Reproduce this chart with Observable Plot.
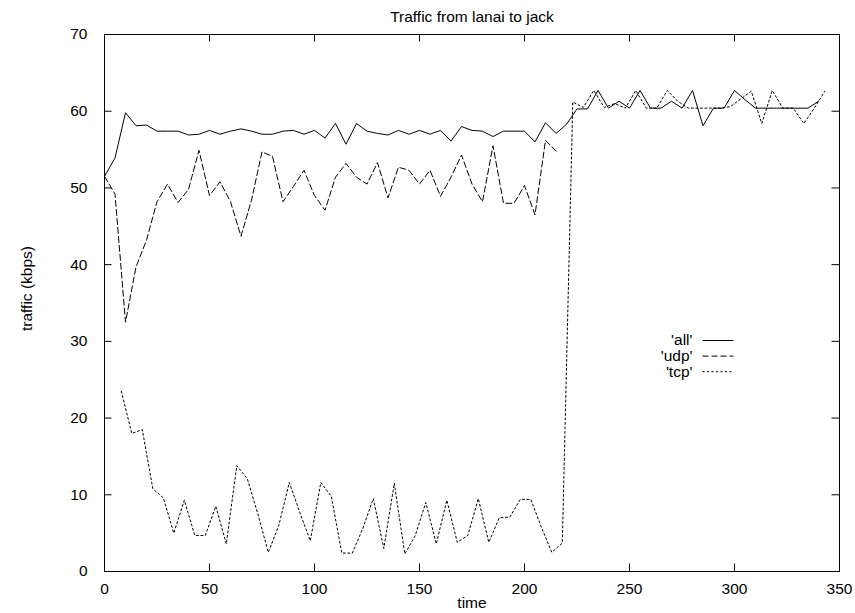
<!DOCTYPE html>
<html><head><meta charset="utf-8">
<script src="https://cdn.jsdelivr.net/npm/d3@7"></script>
<script src="https://cdn.jsdelivr.net/npm/@observablehq/plot@0.6"></script>
<style>
html,body{margin:0;padding:0;background:#fff;}
#chart svg{display:block;}
</style></head><body><div id="chart"></div>
<script>
const titleText = "Traffic from lanai to jack";
const xLabel = "time";
const yLabel = "traffic (kbps)";
const seriesNames = ["'all'", "'udp'", "'tcp'"];
const xTicks = [0, 50, 100, 150, 200, 250, 300, 350];
const yTicks = [0, 10, 20, 30, 40, 50, 60, 70];

const allTime = [0,5,10,15,20,25,30,35,40,45,50,55,60,65,70,75,80,85,90,95,100,105,110,115,120,125,130,135,140,145,150,155,160,165,170,175,180,185,190,195,200,205,210,215,220,225,230,235,240,245,250,255,260,265,270,275,280,285,290,295,300,305,310,315,320,325,330,335,340];
const allValue = [51.5,53.9,59.8,58.1,58.2,57.4,57.4,57.4,56.9,57.0,57.5,57.0,57.4,57.7,57.4,57.0,57.0,57.4,57.5,57.0,57.5,56.5,58.4,55.7,58.4,57.4,57.1,56.9,57.5,57.0,57.5,57.0,57.5,56.1,58.0,57.5,57.4,56.7,57.4,57.4,57.4,56.0,58.5,57.1,58.3,60.3,60.3,62.7,60.4,61.3,60.4,62.7,60.4,60.4,61.3,60.4,62.7,58.1,60.4,60.4,62.7,61.5,60.4,60.4,60.4,60.4,60.4,60.4,61.3];

const udpTime = [0,5,10,15,20,25,30,35,40,45,50,55,60,65,70,75,80,85,90,95,100,105,110,115,120,125,130,135,140,145,150,155,160,165,170,175,180,185,190,195,200,205,210,215];
const udpValue = [51.5,49.2,32.5,39.7,43.2,48.2,50.5,48.1,49.8,54.9,49.0,50.8,48.2,43.7,48.4,54.7,54.1,48.2,50.2,52.3,49.0,47.1,51.4,53.2,51.4,50.5,53.3,48.7,52.7,52.3,50.5,52.3,48.9,51.4,54.3,50.5,48.2,55.5,48.0,48.0,50.3,46.5,56.2,54.8];

const tcpTime = [8,13,18,23,28,33,38,43,48,53,58,63,68,73,78,83,88,93,98,103,108,113,118,123,128,133,138,143,148,153,158,163,168,173,178,183,188,193,198,203,208,213,218,223,228,233,238,243,248,253,258,263,268,273,278,283,288,293,298,303,308,313,318,323,328,333,338,343];
const tcpValue = [23.5,18.0,18.5,10.8,9.6,5.0,9.3,4.7,4.7,8.5,3.6,13.8,12.1,7.5,2.5,6.0,11.6,7.7,4.0,11.6,9.8,2.4,2.4,5.6,9.5,3.0,11.5,2.3,4.7,9.0,3.6,9.3,3.8,4.7,9.5,3.8,7.0,7.1,9.4,9.4,5.8,2.5,3.7,61.2,60.5,62.7,60.5,61.0,60.4,62.7,60.4,60.4,62.7,61.3,60.4,60.4,60.4,60.4,60.6,61.6,62.6,58.4,62.7,60.4,60.4,58.4,60.4,62.6];

const W = 855, H = 613, mL = 104, mR = 16, mT = 34, mB = 42;
const xDomain = [0, 350], yDomain = [0, 70];
const kx = (xDomain[1] - xDomain[0]) / (W - mL - mR);
const ky = (yDomain[1] - yDomain[0]) / (H - mT - mB);
const px2x = (p) => xDomain[0] + (p - mL) * kx;
const py2y = (p) => yDomain[1] - (p - mT) * ky;
const tickLen = 7.5;
const dashes = [null, "6,3", "2,2.5"];
const font = "'Liberation Sans', Arial, Helvetica, sans-serif";
const fs = 15.5;

const rows = (t, v) => t.map((d, i) => ({t: d, v: v[i]}));
const series = [rows(allTime, allValue), rows(udpTime, udpValue), rows(tcpTime, tcpValue)];

const marks = [];
marks.push(Plot.ruleX(xTicks, {x: d => d, y1: yDomain[0], y2: yDomain[0] + tickLen * ky, stroke: "black"}));
marks.push(Plot.ruleX(xTicks, {x: d => d, y1: yDomain[1], y2: yDomain[1] - tickLen * ky, stroke: "black"}));
marks.push(Plot.ruleY(yTicks, {y: d => d, x1: xDomain[0], x2: xDomain[0] + tickLen * kx, stroke: "black"}));
marks.push(Plot.ruleY(yTicks, {y: d => d, x1: xDomain[1], x2: xDomain[1] - tickLen * kx, stroke: "black"}));
marks.push(Plot.axisX(xTicks, {tickSize: 0, tickPadding: 11, label: null, fontSize: fs}));
marks.push(Plot.axisY(yTicks, {tickSize: 0, tickPadding: 17, label: null, fontSize: fs}));
series.forEach((s, i) => {
  marks.push(Plot.line(s, {x: "t", y: "v", stroke: "black", strokeWidth: 1, strokeDasharray: dashes[i]}));
});
seriesNames.forEach((name, i) => {
  const cy = 340 + i * 15.6;
  marks.push(Plot.text([name], {x: px2x(692), y: py2y(cy), text: d => d, textAnchor: "end", fontSize: fs}));
  marks.push(Plot.link([name], {x1: px2x(702), x2: px2x(733), y1: py2y(cy), y2: py2y(cy), stroke: "black", strokeWidth: 1, strokeDasharray: dashes[i]}));
});
marks.push(Plot.frame({stroke: "black", strokeWidth: 1}));
marks.push(Plot.text([titleText], {x: px2x(471.5), y: py2y(17), text: d => d, fontSize: fs}));
marks.push(Plot.text([xLabel], {x: px2x(471.5), y: py2y(603), text: d => d, fontSize: fs}));
marks.push(Plot.text([yLabel], {x: px2x(27), y: py2y(288), rotate: -90, text: d => d, fontSize: fs}));

const chart = Plot.plot({
  width: W, height: H,
  marginLeft: mL, marginRight: mR, marginTop: mT, marginBottom: mB,
  x: {domain: xDomain, axis: null},
  y: {domain: yDomain, axis: null},
  style: {fontFamily: font, fontSize: fs + "px", background: "white", color: "black", overflow: "visible"},
  marks
});
document.getElementById("chart").appendChild(chart);
</script>
</body></html>
